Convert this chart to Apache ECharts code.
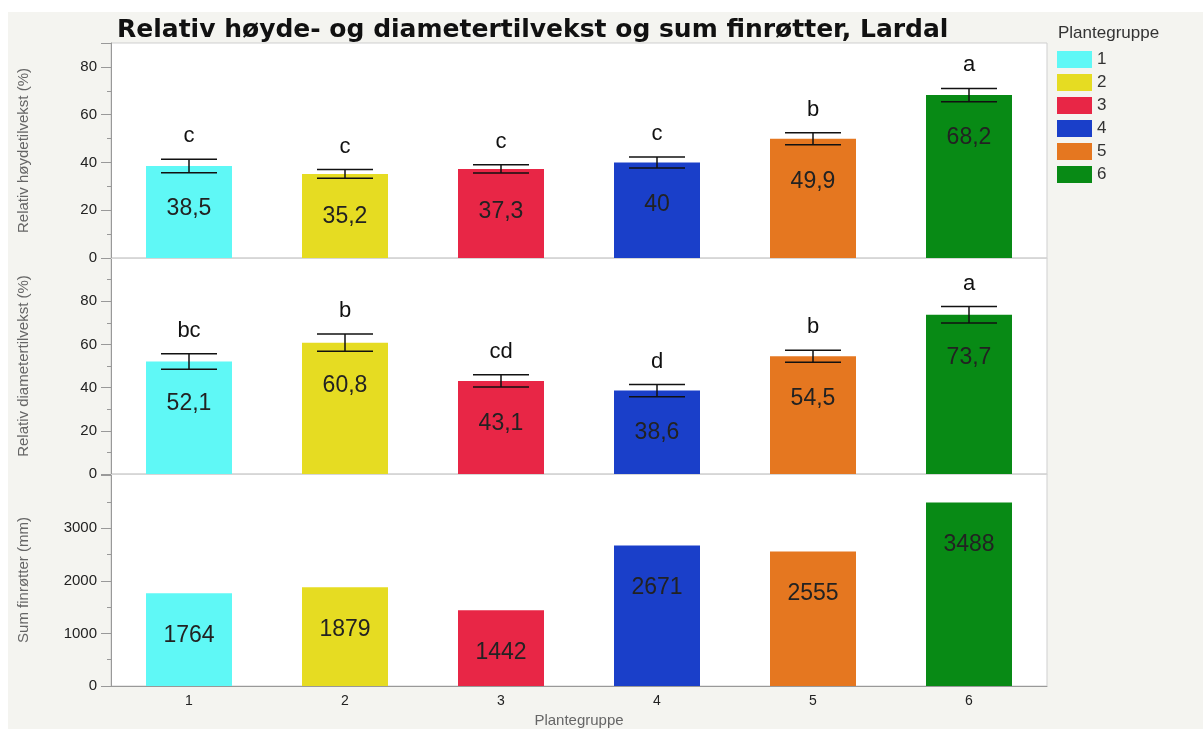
<!DOCTYPE html>
<html>
<head>
<meta charset="utf-8">
<script src="https://cdn.jsdelivr.net/npm/echarts@6/dist/echarts.min.js"></script>
<style>
  html, body { margin: 0; padding: 0; background: #fff; }
  #chart { width: 1203px; height: 729px; }
</style>
</head>
<body>
<div id="chart"></div>
<script>
const groups = ['1', '2', '3', '4', '5', '6']
const groupColors = ['#5ff8f6', '#e6dc22', '#e82646', '#1a3fc9', '#e57720', '#088a15']

const heightGrowth = [38.5, 35.2, 37.3, 40, 49.9, 68.2]
const heightSE = [2.85, 1.85, 1.7, 2.3, 2.5, 2.8]
const heightLetters = ['c', 'c', 'c', 'c', 'b', 'a']

const diamGrowth = [52.1, 60.8, 43.1, 38.6, 54.5, 73.7]
const diamSE = [3.6, 4, 2.8, 2.8, 2.8, 3.8]
const diamLetters = ['bc', 'b', 'cd', 'd', 'b', 'a']

const rootSum = [1764, 1879, 1442, 2671, 2555, 3488]

const font = "'Liberation Sans', Arial, sans-serif"

const panels = [
  { values: heightGrowth, se: heightSE, letters: heightLetters, name: 'Relativ høydetilvekst (%)', max: 90, interval: 20, labelMax: 80 },
  { values: diamGrowth, se: diamSE, letters: diamLetters, name: 'Relativ diametertilvekst (%)', max: 100, interval: 20, labelMax: 80 },
  { values: rootSum, se: null, letters: null, name: 'Sum finrøtter (mm)', max: 4030, interval: 1000, labelMax: 3000 }
]

const gridTops = [43, 258, 474]
const gridHeights = [215, 216, 216]

function fmt (v) {
  return String(v).replace('.', ',')
}

const chart = echarts.init(document.getElementById('chart'))

const grids = panels.map((p, k) => ({
  left: 111,
  right: 156,
  top: gridTops[k],
  height: gridHeights[k],
  show: true,
  backgroundColor: '#fff',
  borderColor: '#cfcfcf',
  borderWidth: 1
}))

const xAxes = panels.map((p, k) => ({
  type: 'category',
  gridIndex: k,
  data: groups,
  axisTick: { show: false },
  axisLine: { show: true, lineStyle: { color: k === 2 ? '#999' : '#d6d6d6' } },
  axisLabel: { show: k === 2, color: '#222', fontSize: 14, fontFamily: font, margin: 8 },
  name: k === 2 ? 'Plantegruppe' : '',
  nameLocation: 'middle',
  nameGap: 27,
  nameTextStyle: { color: '#666', fontSize: 15, fontFamily: font }
}))

const yAxes = panels.map((p, k) => ({
  type: 'value',
  gridIndex: k,
  min: 0,
  max: p.max,
  interval: p.interval,
  splitLine: { show: false },
  axisLine: { show: true, lineStyle: { color: '#999' } },
  axisTick: { show: true, length: 10, lineStyle: { color: '#999' } },
  minorTick: { show: true, splitNumber: 2, length: 4, lineStyle: { color: '#999' } },
  axisLabel: {
    color: '#222',
    fontSize: 15,
    fontFamily: font,
    margin: 14,
    formatter: v => (v > p.labelMax ? '' : v)
  },
  name: p.name,
  nameLocation: 'middle',
  nameGap: 80,
  nameTextStyle: { color: '#666', fontSize: 15, fontFamily: font }
}))

const series = []
panels.forEach((p, k) => {
  groups.forEach((g, i) => {
    series.push({
      type: 'bar',
      name: g,
      xAxisIndex: k,
      yAxisIndex: k,
      barWidth: 86,
      barGap: '-100%',
      itemStyle: { color: groupColors[i] },
      label: {
        show: true,
        position: 'insideTop',
        distance: 31,
        color: '#222',
        fontSize: 23,
        fontFamily: font,
        formatter: d => fmt(d.value)
      },
      data: groups.map((_, j) => (j === i ? p.values[i] : '-'))
    })
  })
  if (p.se) {
    series.push({
      type: 'custom',
      xAxisIndex: k,
      yAxisIndex: k,
      z: 5,
      clip: false,
      data: groups.map((g, i) => [i, p.values[i], p.se[i]]),
      renderItem: (params, api) => {
        const x = api.value(0)
        const m = api.value(1)
        const s = api.value(2)
        const hi = api.coord([x, m + s])
        const lo = api.coord([x, m - s])
        const w = 28
        const st = { stroke: '#111', lineWidth: 1.5 }
        return {
          type: 'group',
          children: [
            { type: 'line', shape: { x1: hi[0], y1: hi[1], x2: lo[0], y2: lo[1] }, style: st },
            { type: 'line', shape: { x1: hi[0] - w, y1: hi[1], x2: hi[0] + w, y2: hi[1] }, style: st },
            { type: 'line', shape: { x1: lo[0] - w, y1: lo[1], x2: lo[0] + w, y2: lo[1] }, style: st },
            {
              type: 'text',
              x: hi[0],
              y: hi[1] - 23,
              style: {
                text: p.letters[params.dataIndex],
                fill: '#111',
                font: '22px ' + font,
                align: 'center',
                verticalAlign: 'middle'
              }
            }
          ]
        }
      }
    })
  }
})

const option = {
  backgroundColor: '#fff',
  animation: false,
  graphic: [{
    type: 'rect',
    z: -10,
    shape: { x: 8, y: 12, width: 1195, height: 717 },
    style: { fill: '#f4f4f0' }
  }],
  title: [{
    text: 'Relativ høyde- og diametertilvekst og sum finrøtter, Lardal',
    left: 117,
    top: 18,
    padding: 0,
    textStyle: { color: '#111', fontSize: 25, fontWeight: 'bold', fontFamily: "'DejaVu Sans', sans-serif" }
  }, {
    text: 'Plantegruppe',
    left: 1058,
    top: 25,
    padding: 0,
    textStyle: { color: '#333', fontSize: 17, fontWeight: 'normal', fontFamily: font }
  }],
  legend: {
    data: groups,
    orient: 'vertical',
    left: 1057,
    top: 51,
    padding: 0,
    icon: 'rect',
    itemWidth: 35,
    itemHeight: 17,
    itemGap: 6,
    selectedMode: false,
    textStyle: { color: '#333', fontSize: 17, fontFamily: font }
  },
  grid: grids,
  xAxis: xAxes,
  yAxis: yAxes,
  series: series
}

chart.setOption(option)
</script>
</body>
</html>
